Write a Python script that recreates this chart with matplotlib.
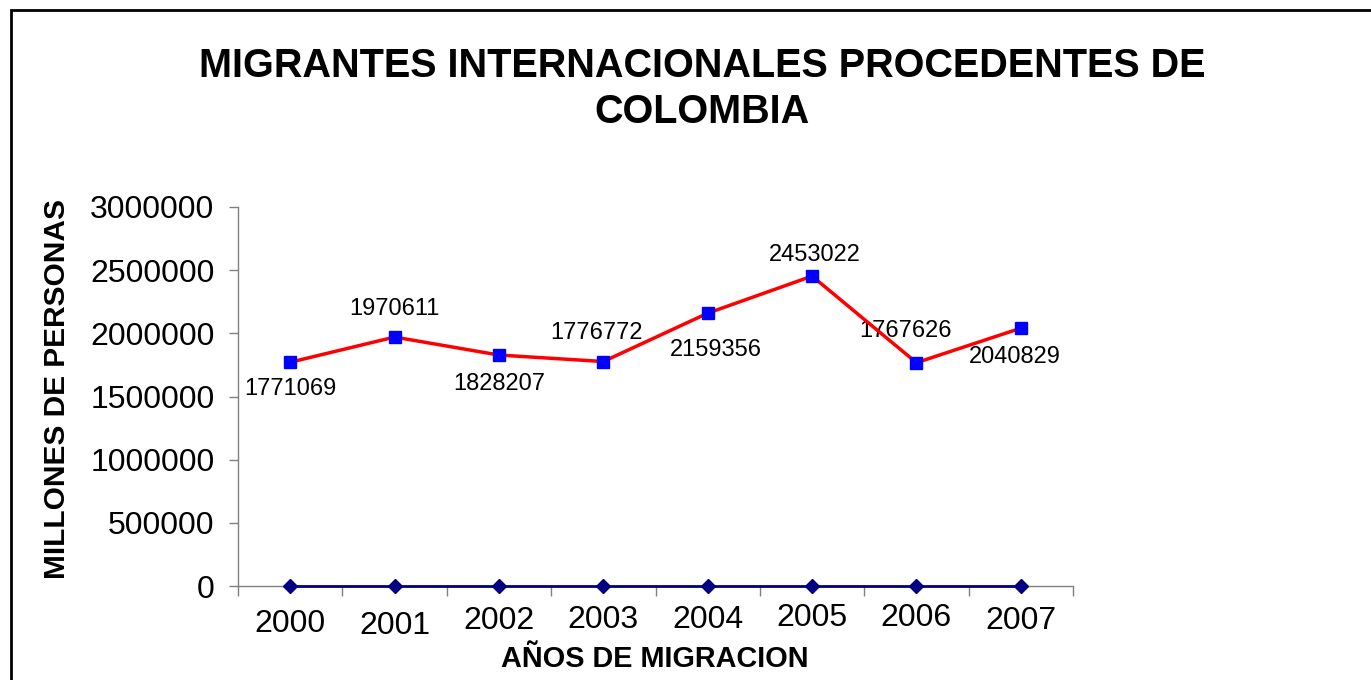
import numpy as np
import matplotlib
matplotlib.use('Agg')
import matplotlib.pyplot as plt
from matplotlib.patches import Rectangle
from matplotlib.transforms import blended_transform_factory

plt.rcParams['font.family'] = ['Liberation Sans', 'DejaVu Sans']

years = ['2000', '2001', '2002', '2003', '2004', '2005', '2006', '2007']
migrantes = [1771069, 1970611, 1828207, 1776772, 2159356, 2453022, 1767626, 2040829]
serie_cero = [0, 0, 0, 0, 0, 0, 0, 0]
y_ticks = [0, 500000, 1000000, 1500000, 2000000, 2500000, 3000000]

# label offsets in pixels (dx, dy), Excel put them a bit everywhere
label_off = [(0, -27), (0, 28), (0, -29), (-7, 29), (8, -37), (3, 21), (-11, 32), (-6, -29)]
# the year labels are not all at the same height in the original
year_y = [-38, -40, -35, -34, -34, -32, -32, -35]

W, H = 1371, 680
fig = plt.figure(figsize=(W / 100, H / 100), dpi=100)
ax = fig.add_axes([238 / W, 1 - 586 / H, (1073 - 238) / W, (586 - 207) / H])

x = np.arange(len(years))
ax.plot(x, serie_cero, color='#000080', lw=2, marker='D', ms=7.5,
        mfc='#000080', mec='#000080', zorder=3, clip_on=False)
ax.plot(x, migrantes, color='#FF0000', lw=2.5, marker='s', ms=8.5,
        mfc='#0000FF', mec='#0000FF', zorder=4)

for i, v in enumerate(migrantes):
    dx, dy = label_off[i]
    ax.annotate(str(v), (i, v), xytext=(dx, dy), textcoords='offset pixels',
                ha='center', va='center', fontsize=17, color='black')

ax.set_xlim(-0.5, len(years) - 0.5)
ax.set_ylim(0, 3000000)
ax.set_yticks(y_ticks)
ax.set_yticklabels([str(t) for t in y_ticks])
ax.tick_params(axis='y', length=6.5, width=1, color='#808080', pad=10.5, labelsize=23)

# category axis: ticks between the categories, labels in the middle
ax.set_xticks(np.arange(-0.5, len(years)), minor=True)
ax.set_xticks([])
ax.tick_params(axis='x', which='minor', length=7, width=1, color='#808080')
trans = blended_transform_factory(ax.transData, ax.transAxes)
for i, lab in enumerate(years):
    ax.annotate(lab, (i, 0), xycoords=trans, xytext=(0, year_y[i]),
                textcoords='offset pixels', ha='center', va='center', fontsize=23)

for s in ['top', 'right']:
    ax.spines[s].set_visible(False)
for s in ['left', 'bottom']:
    ax.spines[s].set_color('#808080')
    ax.spines[s].set_linewidth(1)

fig.text(655 / W, 1 - 659 / H, 'AÑOS DE MIGRACION', ha='center', va='center',
         fontsize=20.8, fontweight='bold')
fig.text(57 / W, 1 - 389 / H, 'MILLONES DE PERSONAS', ha='center', va='center',
         rotation=90, fontsize=21.5, fontweight='bold')
fig.text(702 / W, 1 - 89 / H, 'MIGRANTES INTERNACIONALES PROCEDENTES DE\nCOLOMBIA',
         ha='center', va='center', fontsize=28.5, fontweight='bold', linespacing=1.25)

# chart frame, cut off at the right and bottom like the screenshot
fig.patches.append(Rectangle((11 / W, -0.1), 1.2, 1 - 10 / H + 0.1, transform=fig.transFigure,
                             fill=False, edgecolor='black', lw=2, clip_on=False))

fig.savefig('out.png', dpi=100)
